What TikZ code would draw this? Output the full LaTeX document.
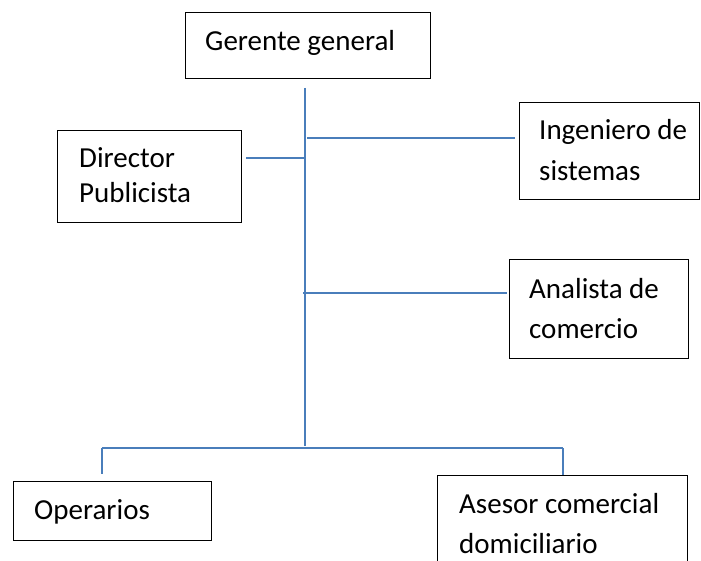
\documentclass[tikz,border=0pt]{standalone}
\usepackage{fontspec}
\setmainfont{Carlito}
\begin{document}
\begin{tikzpicture}[x=1pt,y=-1pt,
  box/.style={draw=black, line width=1.4pt, rectangle, inner sep=0pt, anchor=north west},
  lbl/.style={anchor=base west, align=left, inner sep=0pt, font=\fontsize{29}{40}\selectfont},
  link/.style={color={rgb,255:red,74;green,126;blue,187}, line width=2pt}]
\clip (0,0) rectangle (701,561);
\fill[white] (0,0) rectangle (701,561);

% boxes
\node[box, minimum width=245pt, minimum height=66pt] (ger) at (185,12) {};
\node[box, minimum width=184pt, minimum height=92pt] (dir) at (57,130) {};
\node[box, minimum width=180pt, minimum height=97pt] (ing) at (519,102) {};
\node[box, minimum width=179pt, minimum height=99pt] (ana) at (509,259) {};
\node[box, minimum width=198pt, minimum height=59pt] (ope) at (13,481) {};
\node[box, minimum width=250pt, minimum height=110pt] (ase) at (437,475) {};

% labels (multi-line labels are placed by the baseline of their last line)
\node[lbl] (ger-t) at (205,51) {Gerente general};
\node[lbl, font=\fontsize{29}{35}\selectfont] (dir-t) at (79,203) {Director\\Publicista};
\node[lbl, font=\fontsize{29}{41}\selectfont] (ing-t) at (539,181) {Ingeniero de\\sistemas};
\node[lbl] (ana-t) at (529,338) {Analista de\\comercio};
\node[lbl] (ope-t) at (34,519) {Operarios};
\node[lbl] (ase-t) at (459,553) {Asesor comercial\\domiciliario};

% trunk and branch points
\coordinate (ttop) at (305,88);
\coordinate (tbot) at (305,446);
\coordinate (jd) at (305,158);
\coordinate (ji) at (307,138);
\coordinate (ja) at (303,293);
\coordinate (bl) at (102,448);
\coordinate (br) at (563,448);

\draw[link] (ttop) -- (tbot);
\draw[link, shorten >=4pt] (jd) -- (jd -| dir.east);
\draw[link, shorten >=4pt] (ji) -- (ji -| ing.west);
\draw[link, shorten >=2pt] (ja) -- (ja -| ana.west);
\draw[link] (bl) -- (br);
\draw[link, shorten >=7pt] (bl) -- (bl |- ope.north);
\draw[link] (br) -- (br |- ase.north);
\end{tikzpicture}
\end{document}
